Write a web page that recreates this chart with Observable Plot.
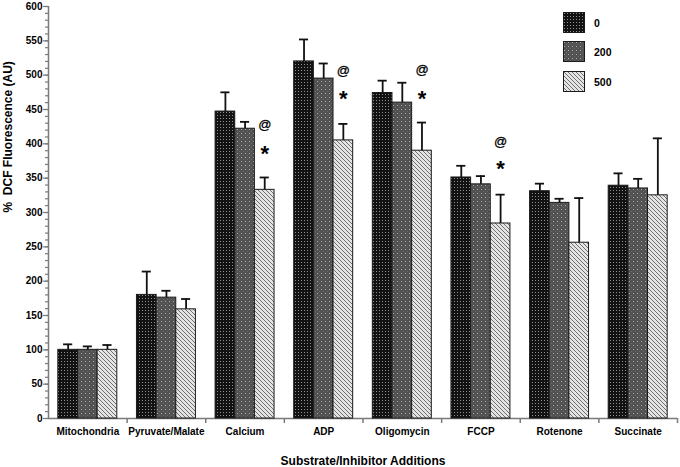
<!DOCTYPE html>
<html>
<head>
<meta charset="utf-8">
<script src="https://cdn.jsdelivr.net/npm/d3@7"></script>
<script src="https://cdn.jsdelivr.net/npm/@observablehq/plot@0.6"></script>
<style>
  body { margin: 0; background: #fff; }
  #wrap { position: relative; width: 680px; height: 467px; font-family: "Liberation Sans", Arial, sans-serif; }
  .leg { position: absolute; left: 563px; display: flex; align-items: center; font-weight: bold; font-size: 10.5px; color: #000; }
  .leg svg { display: block; margin-right: 9px; }
</style>
</head>
<body>
<svg width="0" height="0" style="position:absolute">
  <defs>
    <pattern id="p0" width="3" height="3" patternUnits="userSpaceOnUse">
      <rect width="3" height="3" fill="#121212"></rect>
      <rect x="1" y="1" width="1" height="1" fill="#8f8f8f"></rect>
    </pattern>
    <pattern id="p200" width="4" height="4" patternUnits="userSpaceOnUse">
      <rect width="4" height="4" fill="#525252"></rect>
      <rect x="1" y="1" width="1" height="1" fill="#aaaaaa"></rect>
      <rect x="3" y="3" width="1" height="1" fill="#6a6a6a"></rect>
    </pattern>
    <pattern id="p500" width="4" height="4" patternUnits="userSpaceOnUse">
      <rect width="4" height="4" fill="#e4e4e4"></rect>
      <path d="M-1,-1 L5,5 M-1,3 L1,5 M3,-1 L5,1" stroke="#707070" stroke-width="1"></path>
    </pattern>
  </defs>
</svg>
<div id="wrap"></div>
<script>
const categories = ["Mitochondria", "Pyruvate/Malate", "Calcium", "ADP", "Oligomycin", "FCCP", "Rotenone", "Succinate"];
const doses = ["0", "200", "500"];

const mean0   = [100, 180, 447, 520, 474, 351, 331, 339];
const mean200 = [100, 176, 422, 495, 460, 341, 314, 335];
const mean500 = [100, 159, 333, 405, 390, 284, 256, 325];

const err0   = [8, 34, 28, 32, 18, 17, 11, 18];
const err200 = [5, 10, 10, 22, 29, 12, 6, 14];
const err500 = [7, 15, 18, 24, 41, 42, 65, 83];

const sigCategories = ["Calcium", "ADP", "Oligomycin", "FCCP"];
const sigDose = "500";
const atLevel   = [428, 507, 508, 403];
const starLevel = [393, 473, 473, 370];

const yTitle = "%  DCF Fluorescence (AU)";
const xTitle = "Substrate/Inhibitor Additions";

// group layout: each category occupies one unit on x, bars fill the middle 75%
const groupPad = 0.125;
const barW = (1 - 2 * groupPad) / doses.length;
const capHalf = 0.058;

const means = [mean0, mean200, mean500];
const errs = [err0, err200, err500];
const rows = categories.flatMap((c, i) => doses.map((d, j) => {
  const x1 = i + groupPad + j * barW;
  return {cat: c, dose: d, mean: means[j][i], err: errs[j][i], x1, x2: x1 + barW, xc: x1 + barW / 2};
}));
const sig = sigCategories.map((c, i) => {
  const ci = categories.indexOf(c), j = doses.indexOf(sigDose);
  return {cat: c, xc: ci + groupPad + (j + 0.5) * barW, at: atLevel[i], star: starLevel[i]};
});

const font = "Liberation Sans, Arial, sans-serif";
const axisColor = "#7a7a7a";

const chart = Plot.plot({
  width: 680,
  height: 467,
  marginLeft: 48,
  marginRight: 3,
  marginTop: 6,
  marginBottom: 49,
  style: {fontFamily: font, fontSize: "10px", fontWeight: "bold", color: "#000", background: "#fff", overflow: "visible"},
  x: {domain: [0, categories.length], label: null},
  y: {domain: [0, 600], label: null},
  color: {domain: doses, range: ["url(#p0)", "url(#p200)", "url(#p500)"]},
  marks: [
    Plot.axisY(d3.range(0, 601, 10), {tickSize: 3, text: null, stroke: axisColor, strokeWidth: 1.2}),
    Plot.axisY(d3.range(0, 601, 50), {tickSize: 5, tickPadding: 1, stroke: axisColor, strokeWidth: 1.2, fill: "#000", fontWeight: "bold", fontSize: 10, label: null}),
    Plot.axisX(d3.range(1, categories.length + 1), {tickSize: 5, text: null, stroke: axisColor, strokeWidth: 1.5, label: null}),
    Plot.axisX(categories.map((c, i) => i + 0.5), {tickSize: 0, tickPadding: 9, tickFormat: v => categories[Math.floor(v)], fontSize: 10, fontWeight: "bold", fill: "#000", label: null}),
    Plot.ruleX([0], {y1: 0, y2: 600, stroke: axisColor, strokeWidth: 1.5}),
    Plot.ruleY([0], {stroke: axisColor, strokeWidth: 1.5}),
    Plot.rectY(rows, {x1: "x1", x2: "x2", y: "mean", fill: "dose", stroke: "#1a1a1a", strokeWidth: 1}),
    Plot.ruleX(rows, {x: "xc", y1: "mean", y2: d => d.mean + d.err, stroke: "#111", strokeWidth: 1.8}),
    Plot.ruleY(rows, {y: d => d.mean + d.err, x1: d => d.xc - capHalf, x2: d => d.xc + capHalf, stroke: "#111", strokeWidth: 1.8}),
    Plot.text(sig, {x: "xc", y: "at", text: () => "@", fontSize: 13, fontWeight: "normal", fill: "#000", stroke: "#000", strokeWidth: 0.3}),
    Plot.text(sig, {x: "xc", y: "star", text: () => "*", fontSize: 22, fontWeight: "bold", dy: 5, fill: "#000"}),
    Plot.text([xTitle], {frameAnchor: "bottom", dy: 46, fontSize: 12, fontWeight: "bold", fill: "#000"}),
    Plot.text([yTitle], {frameAnchor: "left", dx: -40, rotate: -90, fontSize: 12, fontWeight: "bold", fill: "#000"})
  ]
});

const wrap = document.getElementById("wrap");
wrap.appendChild(chart);

// legend (inside the plot area, top right)
const legendTops = [12, 41, 71];
doses.forEach((d, i) => {
  const div = document.createElement("div");
  div.className = "leg";
  div.style.top = legendTops[i] + "px";
  div.innerHTML = `<svg width="22" height="21"><rect x="0.5" y="0.5" width="21" height="20" fill="url(#p${d})" stroke="#1a1a1a" stroke-width="1"></rect></svg><span>${d}</span>`;
  wrap.appendChild(div);
});
</script>
</body>
</html>
